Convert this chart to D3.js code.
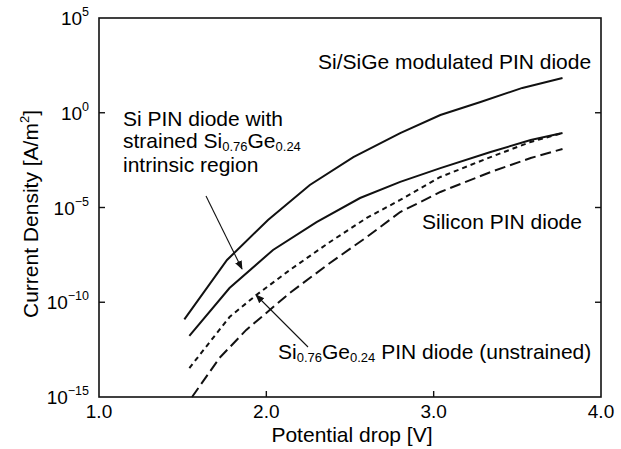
<!DOCTYPE html>
<html>
<head>
<meta charset="utf-8">
<script src="https://cdn.jsdelivr.net/npm/d3@7"></script>
<style>
  body { margin: 0; background: #fff; }
  svg { display: block; font-family: 'Liberation Sans', Arial, sans-serif; }
</style>
</head>
<body>
<svg id="chart" width="621" height="449"></svg>
<script>
// potential drop [V] and log10 of current density [A/m^2]
const modulatedV = [1.51, 1.765, 2.01, 2.26, 2.52, 2.80, 3.04, 3.28, 3.53, 3.77];
const modulatedJ = [-10.9, -7.77, -5.66, -3.81, -2.34, -1.07, -0.12, 0.57, 1.31, 1.83];

const strainedV = [1.54, 1.78, 2.04, 2.30, 2.56, 2.80, 3.04, 3.34, 3.58, 3.77];
const strainedJ = [-11.78, -9.25, -7.24, -5.77, -4.5, -3.65, -2.92, -2.07, -1.44, -1.07];

const unstrainedV = [1.54, 1.78, 1.94, 2.14, 2.38, 2.60, 2.80, 3.04, 3.34, 3.58, 3.77];
const unstrainedJ = [-13.47, -10.78, -9.62, -8.30, -6.82, -5.55, -4.60, -3.39, -2.34, -1.54, -1.07];

const siliconV = [1.556, 1.72, 1.88, 2.14, 2.38, 2.60, 2.80, 3.04, 3.34, 3.58, 3.77];
const siliconJ = [-15, -12.94, -11.46, -9.51, -7.93, -6.56, -5.24, -4.18, -3.13, -2.39, -1.91];

const xTicks = [1, 2, 3, 4];
const xTickLabels = ['1.0', '2.0', '3.0', '4.0'];
const yTickExp = [5, 0, -5, -10, -15];

const config = {
  left: 99, right: 601, top: 18, bottom: 397,
  font: 19,
  label: 21,
};

const d3 = window.d3;
const svg = d3.select('#chart');

const x = d3.scaleLinear().domain([1, 4]).range([config.left, config.right]);
const y = d3.scaleLog().domain([1e-15, 1e5]).range([config.bottom, config.top]);

const series = [
  { v: modulatedV, j: modulatedJ, dash: null },
  { v: strainedV, j: strainedJ, dash: null },
  { v: unstrainedV, j: unstrainedJ, dash: '5,4' },
  { v: siliconV, j: siliconJ, dash: '11,5' },
];

const line = d3.line()
  .x(d => x(d[0]))
  .y(d => y(Math.pow(10, d[1])));

svg.append('g')
  .selectAll('path')
  .data(series)
  .enter()
  .append('path')
  .attr('d', s => line(s.v.map((v, i) => [v, s.j[i]])))
  .attr('fill', 'none')
  .attr('stroke', '#111')
  .attr('stroke-width', 2)
  .attr('stroke-dasharray', s => s.dash);

// frame
svg.append('rect')
  .attr('x', config.left)
  .attr('y', config.top)
  .attr('width', config.right - config.left)
  .attr('height', config.bottom - config.top)
  .attr('fill', 'none')
  .attr('stroke', '#111')
  .attr('stroke-width', 1.6);

// inner ticks, both sides
const yInner = yTickExp.slice(1, -1);
svg.append('g')
  .selectAll('line')
  .data(yInner)
  .enter()
  .append('line')
  .attr('x1', config.left).attr('x2', config.left + 6)
  .attr('y1', d => y(Math.pow(10, d))).attr('y2', d => y(Math.pow(10, d)))
  .attr('stroke', '#111').attr('stroke-width', 1.4);
svg.append('g')
  .selectAll('line')
  .data(yInner)
  .enter()
  .append('line')
  .attr('x1', config.right).attr('x2', config.right - 6)
  .attr('y1', d => y(Math.pow(10, d))).attr('y2', d => y(Math.pow(10, d)))
  .attr('stroke', '#111').attr('stroke-width', 1.4);
svg.append('g')
  .selectAll('line')
  .data(xTicks.slice(1, -1))
  .enter()
  .append('line')
  .attr('x1', d => x(d)).attr('x2', d => x(d))
  .attr('y1', config.bottom).attr('y2', config.bottom - 6)
  .attr('stroke', '#111').attr('stroke-width', 1.4);

// x tick labels
svg.append('g')
  .selectAll('text')
  .data(xTicks)
  .enter()
  .append('text')
  .attr('x', d => x(d))
  .attr('y', 418)
  .attr('text-anchor', 'middle')
  .style('font-size', config.font + 'px')
  .text((d, i) => xTickLabels[i]);

// y tick labels 10^n
const yl = svg.append('g')
  .selectAll('text')
  .data(yTickExp)
  .enter()
  .append('text')
  .attr('x', 89)
  .attr('y', d => y(Math.pow(10, d)) + 7)
  .attr('text-anchor', 'end')
  .style('font-size', config.font + 'px');
yl.append('tspan').text('10');
yl.append('tspan')
  .attr('dy', -9)
  .style('font-size', '12.5px')
  .text(d => d < 0 ? '\u2212' + (-d) : d);

// axis titles
svg.append('text')
  .attr('x', 352).attr('y', 442)
  .attr('text-anchor', 'middle')
  .style('font-size', config.label + 'px')
  .text('Potential drop [V]');

const yt = svg.append('text')
  .attr('transform', 'translate(38,214) rotate(-90)')
  .attr('text-anchor', 'middle')
  .style('font-size', config.label + 'px');
yt.append('tspan').text('Current Density [A/m');
yt.append('tspan').attr('dy', -9).style('font-size', '13px').text('2');
yt.append('tspan').attr('dy', 9).text(']');

// annotations
function label(xp, yp, parts) {
  const t = svg.append('text')
    .attr('x', xp).attr('y', yp)
    .style('font-size', config.label + 'px');
  let shift = 0;
  parts.forEach(p => {
    const dy = (p.sub ? 3 : 0) - shift;
    shift = p.sub ? 3 : 0;
    t.append('tspan')
      .attr('dy', dy)
      .style('font-size', p.sub ? '13px' : null)
      .text(p.t);
  });
  return t;
}

label(318, 69, [{ t: 'Si/SiGe modulated PIN diode' }]);
label(123, 126, [{ t: 'Si PIN diode with' }]);
label(123, 148, [{ t: 'strained Si' }, { t: '0.76', sub: true }, { t: 'Ge' }, { t: '0.24', sub: true }]);
label(123, 172, [{ t: 'intrinsic region' }]);
label(422, 229, [{ t: 'Silicon PIN diode' }]);
label(278, 359, [{ t: 'Si' }, { t: '0.76', sub: true }, { t: 'Ge' }, { t: '0.24', sub: true }, { t: ' PIN diode (unstrained)' }]);

// arrows
const defs = svg.append('defs');
defs.append('marker')
  .attr('id', 'head')
  .attr('viewBox', '0 0 10 10')
  .attr('refX', 9).attr('refY', 5)
  .attr('markerWidth', 9).attr('markerHeight', 9)
  .attr('markerUnits', 'userSpaceOnUse')
  .attr('orient', 'auto')
  .append('path')
  .attr('d', 'M0,1 L10,5 L0,9 Z')
  .attr('fill', '#111');

const arrows = [
  { x1: 206, y1: 196, x2: 242, y2: 269 },
  { x1: 308, y1: 347, x2: 256, y2: 295 },
];
svg.append('g')
  .selectAll('line')
  .data(arrows)
  .enter()
  .append('line')
  .attr('x1', d => d.x1).attr('y1', d => d.y1)
  .attr('x2', d => d.x2).attr('y2', d => d.y2)
  .attr('stroke', '#111')
  .attr('stroke-width', 1.1)
  .attr('marker-end', 'url(#head)');
</script>
</body>
</html>
